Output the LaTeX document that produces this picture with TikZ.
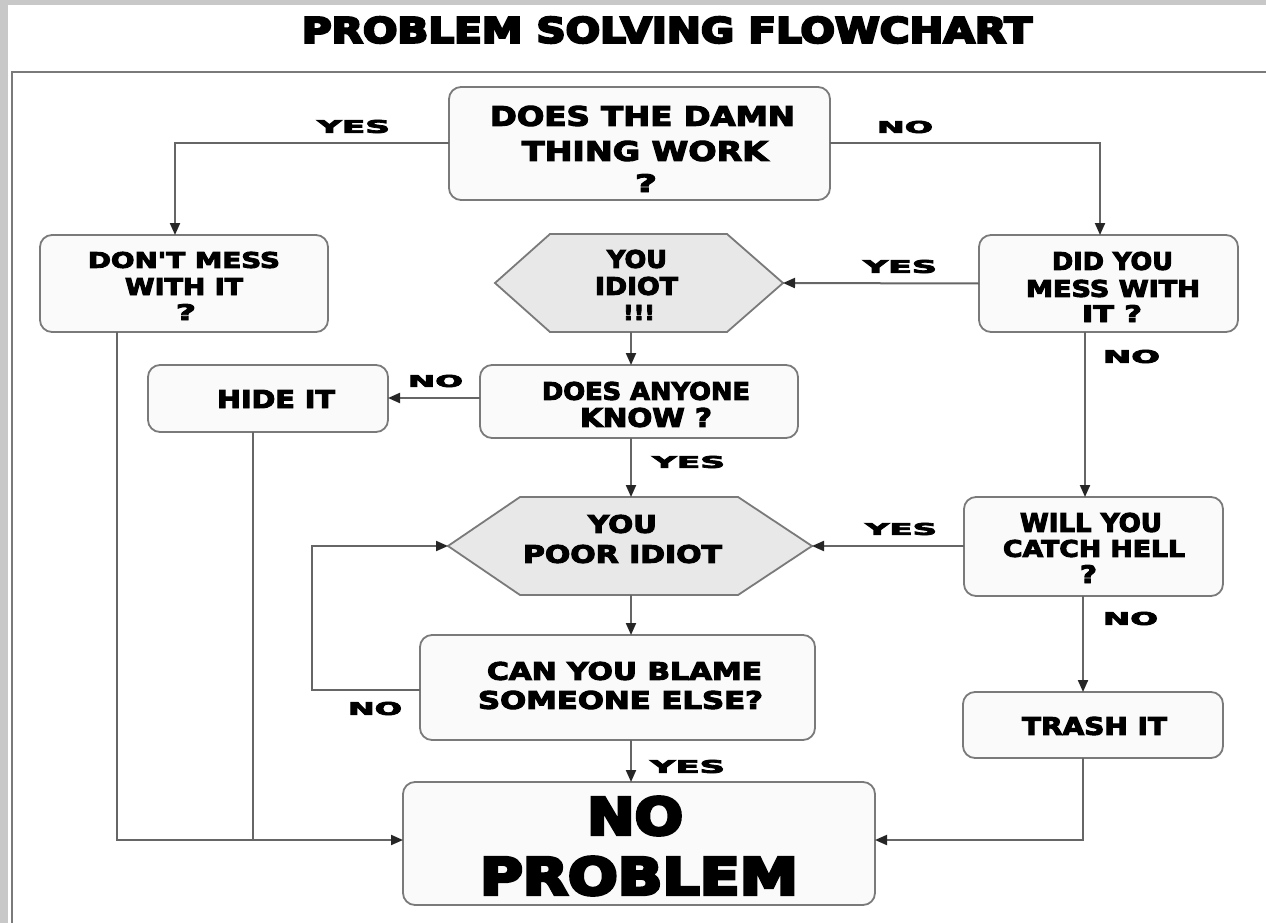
\documentclass[tikz,border=0pt]{standalone}
\usepackage{fontspec}
\usepackage{graphicx}
\setmainfont{DejaVu Sans}
\newfontfamily\heavy{DejaVu Sans}[FakeBold=4]
\newfontfamily\xheavy{DejaVu Sans}[FakeBold=6]
\usetikzlibrary{arrows.meta,calc}
\newcommand\fitln[3]{\resizebox{#1pt}{#2pt}{\heavy\bfseries #3}}
\newcommand\fitxln[3]{\resizebox{#1pt}{#2pt}{\xheavy\bfseries #3}}
\definecolor{linegray}{HTML}{666666}
\definecolor{bordergray}{HTML}{7A7A7A}
\definecolor{boxfill}{HTML}{FAFAFA}
\definecolor{hexfill}{HTML}{E8E8E8}
\definecolor{bandgray}{HTML}{C8C8C8}
\begin{document}
\begin{tikzpicture}[x=1pt,y=-1pt,
  box/.style={draw=bordergray, line width=1.8pt, rounded corners=12pt, fill=boxfill, inner sep=0pt, outer sep=0pt},
  hexbox/.style={inner sep=0pt, outer sep=0pt, draw=none},
  hexline/.style={draw=bordergray, line width=1.8pt, fill=hexfill, line join=miter},
  txt/.style={inner sep=0pt, outer sep=0pt},
  arr/.style={draw=linegray, line width=2pt, -{Triangle[length=12pt,width=10pt,color=black!85]}},
  ln/.style={draw=linegray, line width=2pt}]
\useasboundingbox (0,0) rectangle (1266,923);
% background and frame
\fill[bandgray] (0,0) rectangle (1266,923);
\fill[white] (8,5) rectangle (1266,923);
\draw[bordergray, line width=2pt] (12,923) -- (12,72) -- (1266,72);

% title
\node[txt] (title) at (667,30) {\fitxln{730}{26}{PROBLEM SOLVING FLOWCHART}};

% boxes
\node[box, minimum width=381pt, minimum height=113pt] (n1) at (639.5,143.5) {};
\node[box, minimum width=288pt, minimum height=97pt] (n2) at (184,283.5) {};
\node[box, minimum width=259pt, minimum height=97pt] (n3) at (1108.5,283.5) {};
\node[box, minimum width=318pt, minimum height=73pt] (n4) at (639,401.5) {};
\node[box, minimum width=240pt, minimum height=67pt] (n5) at (268,398.5) {};
\node[box, minimum width=259pt, minimum height=99pt] (n6) at (1093.5,546.5) {};
\node[box, minimum width=395pt, minimum height=105pt] (n7) at (617.5,687.5) {};
\node[box, minimum width=260pt, minimum height=66pt] (n8) at (1093,725) {};
\node[box, minimum width=472pt, minimum height=123pt] (n9) at (639,843.5) {};

% hexagons
\node[hexbox, minimum width=288pt, minimum height=98pt] (h1) at (639,283) {};
\path[hexline] (h1.west) -- ($(h1.north west)+(55,0)$) -- ($(h1.north east)+(-56,0)$) -- (h1.east)
  -- ($(h1.south east)+(-56,0)$) -- ($(h1.south west)+(55,0)$) -- cycle;
\node[hexbox, minimum width=364pt, minimum height=98pt] (h2) at (630,546) {};
\path[hexline] (h2.west) -- ($(h2.north west)+(72,0)$) -- ($(h2.north east)+(-74,0)$) -- (h2.east)
  -- ($(h2.south east)+(-74,0)$) -- ($(h2.south west)+(72,0)$) -- cycle;

% texts
\node[txt] (t1a) at (642.5,116) {\fitln{305}{20}{DOES THE DAMN}};
\node[txt] (t1b) at (645,151) {\fitln{246}{20}{THING WORK}};
\node[txt] (t1c) at (646,183) {\fitln{22}{18}{?}};

\node[txt] (t2a) at (184,260) {\fitln{192}{16}{DON'T MESS}};
\node[txt] (t2b) at (184,286.5) {\fitln{118}{17}{WITH IT}};
\node[txt] (t2c) at (186,312) {\fitln{20}{16}{?}};

\node[txt] (t3a) at (1112.5,261) {\fitln{121}{18}{DID YOU}};
\node[txt] (t3b) at (1113,288.5) {\fitln{174}{17}{MESS WITH}};
\node[txt] (t3c) at (1112,313.5) {\fitln{60}{17}{IT ?}};

\node[txt] (th1a) at (637,259) {\fitln{60}{18}{YOU}};
\node[txt] (th1b) at (636.5,286) {\fitln{83}{18}{IDIOT}};
\node[txt] (th1c) at (639,312.5) {\fitln{32}{15}{!!!}};

\node[txt] (t4a) at (646,391) {\fitln{208}{18}{DOES ANYONE}};
\node[txt] (t4b) at (646,417.5) {\fitln{132}{19}{KNOW ?}};

\node[txt] (t5) at (276,399) {\fitln{118}{18}{HIDE IT}};

\node[txt] (th2a) at (622.5,524) {\fitln{69}{18}{YOU}};
\node[txt] (th2b) at (622.5,554) {\fitln{199}{18}{POOR IDIOT}};

\node[txt] (t6a) at (1091,522.5) {\fitln{142}{19}{WILL YOU}};
\node[txt] (t6b) at (1094,548.5) {\fitln{182}{17}{CATCH HELL}};
\node[txt] (t6c) at (1088.5,574) {\fitln{17}{18}{?}};

\node[txt] (t7a) at (624.5,671) {\fitln{275}{18}{CAN YOU BLAME}};
\node[txt] (t7b) at (620.5,700) {\fitln{285}{18}{SOMEONE ELSE?}};

\node[txt] (t8) at (1094.5,726) {\fitln{145}{18}{TRASH IT}};

\node[txt] (t9a) at (635,816) {\fitxln{96}{38}{NO}};
\node[txt] (t9b) at (639,876) {\fitxln{318}{38}{PROBLEM}};

% branch labels
\node[txt] (l1) at (353.5,126.5) {\fitln{73}{13}{YES}};
\node[txt] (l2) at (905,127) {\fitln{56}{12}{NO}};
\node[txt] (l3) at (900,266.5) {\fitln{74}{13}{YES}};
\node[txt] (l4) at (1131.5,356.5) {\fitln{57}{13}{NO}};
\node[txt] (l5) at (435.5,381) {\fitln{55}{12}{NO}};
\node[txt] (l6) at (688.5,462) {\fitln{73}{12}{YES}};
\node[txt] (l7) at (901,529) {\fitln{72}{12}{YES}};
\node[txt] (l8) at (1130.5,618.5) {\fitln{55}{13}{NO}};
\node[txt] (l9) at (375,708.5) {\fitln{54}{13}{NO}};
\node[txt] (l10) at (687.5,766.5) {\fitln{75}{13}{YES}};

% guide coordinates
\coordinate (spL) at (175,0);
\coordinate (spL2) at (117,0);
\coordinate (spL3) at (253,0);
\coordinate (spC) at (631,0);
\coordinate (spR) at (1100,0);
\coordinate (spR2) at (1085,0);
\coordinate (spR3) at (1083,0);
\coordinate (rowA) at (0,398);
\coordinate (rowB) at (0,840);
\coordinate (loopL) at (312,690);

% connectors
\draw[arr] (n1.west) -| (n2.north -| spL);
\draw[arr] (n1.east) -| (n3.north -| spR);
\draw[arr] (n3.west) -- (h1.east);
\draw[arr] (h1.south -| spC) -- (n4.north -| spC);
\draw[arr] (n4.west |- rowA) -- (n5.east |- rowA);
\draw[arr] (n4.south -| spC) -- (h2.north -| spC);
\draw[arr] (n3.south -| spR2) -- (n6.north -| spR2);
\draw[arr] (n6.west |- h2.east) -- (h2.east);
\draw[arr] (h2.south -| spC) -- (n7.north -| spC);
\draw[arr] (n7.west |- loopL) -- (loopL) |- (h2.west);
\draw[arr] (n7.south -| spC) -- (n9.north -| spC);
\draw[arr] (n6.south -| spR3) -- (n8.north -| spR3);
\draw[arr] (n8.south -| spR3) |- (n9.east |- rowB);
\draw[arr] (n2.south -| spL2) |- (n9.west |- rowB);
\draw[ln] (n5.south -| spL3) -- (spL3 |- rowB);
\end{tikzpicture}
\end{document}
